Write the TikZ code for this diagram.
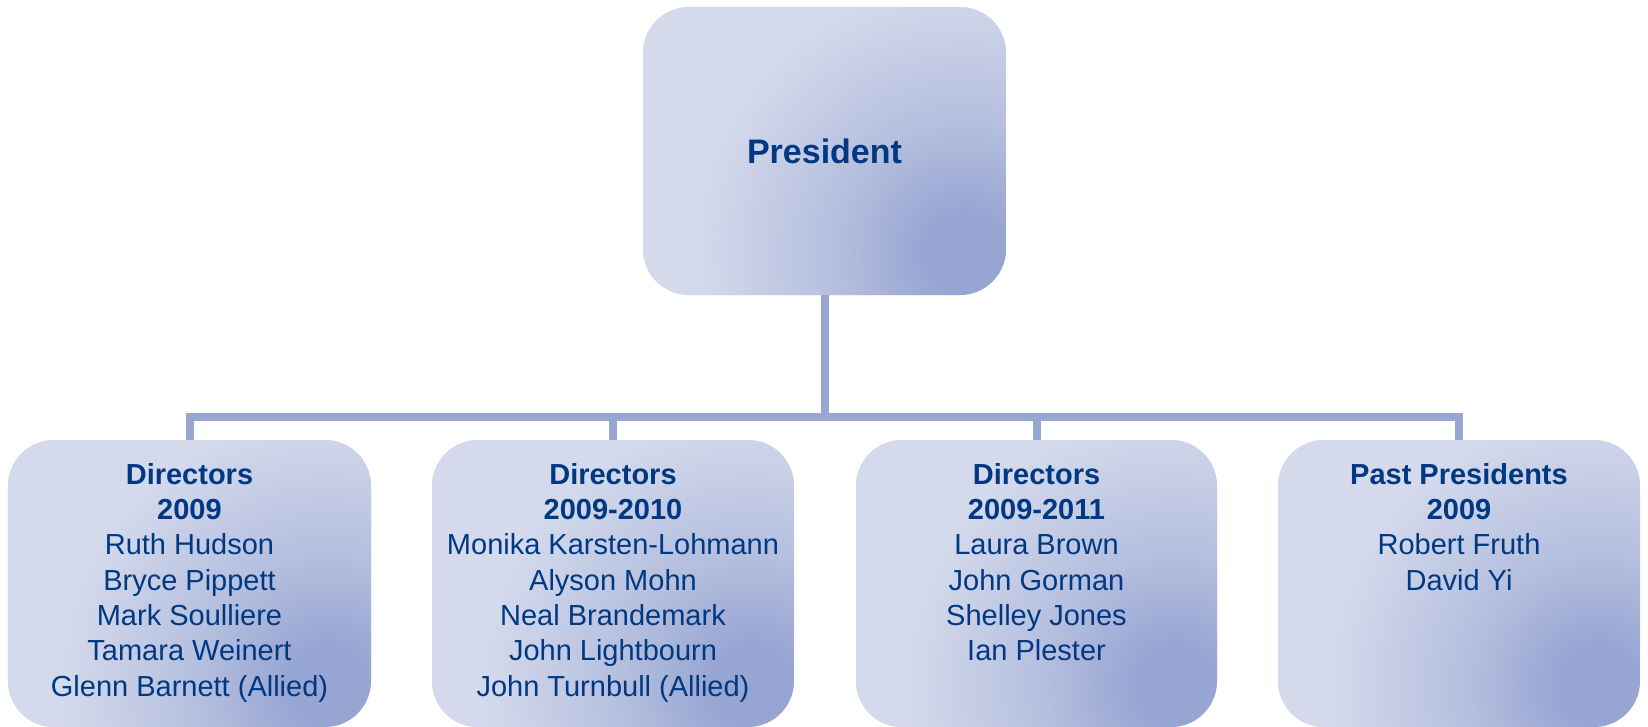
\documentclass[tikz,border=0pt]{standalone}
\usepackage{fontspec}
\setmainfont{Liberation Sans}
\usetikzlibrary{calc}
\definecolor{boxlight}{RGB}{212,218,236}
\definecolor{boxmid}{RGB}{180,190,222}
\definecolor{boxdark}{RGB}{151,165,210}
\definecolor{linecol}{RGB}{152,166,210}
\definecolor{txtcol}{RGB}{0,56,130}
\pgfdeclareradialshading{boxglow}{\pgfpoint{0bp}{0bp}}{color(0bp)=(boxdark); color(40bp)=(boxdark); color(130bp)=(boxmid); color(270bp)=(boxlight); color(700bp)=(boxlight)}
\tikzset{
  orgbox/.style={rounded corners=46bp, minimum width=#1, inner sep=0pt, outer sep=0pt,
    fill=boxlight,
    path picture={\node[inner sep=0pt, outer sep=0pt] (glow) at ($(path picture bounding box.south east)+(-42bp,42bp)$) {\pgfuseshading{boxglow}};}},
  conn/.style={draw=linecol, line width=8bp},
  headtxt/.style={text=txtcol, font=\fontsize{34bp}{40bp}\selectfont\bfseries},
  listtxt/.style={text=txtcol, font=\fontsize{29bp}{35.3bp}\selectfont, align=center, inner sep=0pt, anchor=north},
}
\begin{document}
\begin{tikzpicture}[x=1bp,y=-1bp]
\useasboundingbox (0,0) rectangle (1648,727);
% boxes
\node[orgbox=363bp, minimum height=288bp] (pres) at (824.5,151) {};
\node[orgbox=363bp, minimum height=287bp] (d1) at (189.5,583.5) {};
\node[orgbox=362bp, minimum height=287bp] (d2) at (613,583.5) {};
\node[orgbox=361bp, minimum height=287bp] (d3) at (1036.5,583.5) {};
\node[orgbox=362bp, minimum height=287bp] (pp) at (1459,583.5) {};
% texts
\node[headtxt] (prestxt) at (pres.center) {President};
\node[listtxt] (t1) at (189.5,463) {\textbf{Directors}\\\textbf{2009}\\Ruth Hudson\\Bryce Pippett\\Mark Soulliere\\Tamara Weinert\\Glenn Barnett (Allied)};
\node[listtxt] (t2) at (613,463) {\textbf{Directors}\\\textbf{2009-2010}\\Monika Karsten-Lohmann\\Alyson Mohn\\Neal Brandemark\\John Lightbourn\\John Turnbull (Allied)};
\node[listtxt] (t3) at (1036.5,463) {\textbf{Directors}\\\textbf{2009-2011}\\Laura Brown\\John Gorman\\Shelley Jones\\Ian Plester};
\node[listtxt] (t4) at (1459,463) {\textbf{Past Presidents}\\\textbf{2009}\\Robert Fruth\\David Yi};
% connectors
\coordinate (bar) at (824.5,417);
\draw[conn] (pres.south) -- (bar);
\draw[conn] (bar) -| (d1.north);
\draw[conn] (bar) -| (d2.north);
\draw[conn] (bar) -| (d3.north);
\draw[conn] (bar) -| (pp.north);
\end{tikzpicture}
\end{document}
